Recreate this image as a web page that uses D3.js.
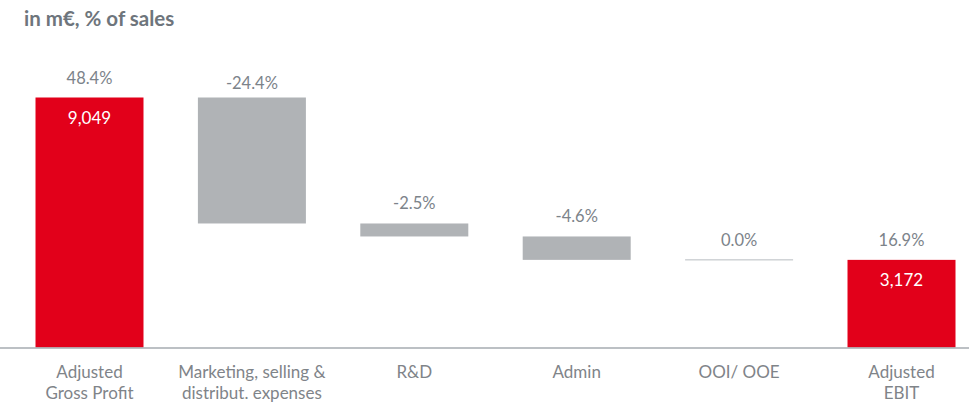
<!DOCTYPE html>
<html>
<head>
<meta charset="utf-8">
<script src="https://cdn.jsdelivr.net/npm/d3@7"></script>
<style>
  html, body { margin: 0; padding: 0; background: #fff; }
  svg { display: block; font-family: Lato, "Noto Sans", sans-serif; }
</style>
</head>
<body>
<div id="chart"></div>
<script>
// categories (label lines), values in m€ and % of sales
const categories = [
  ['Adjusted', 'Gross Profit'],
  ['Marketing, selling &', 'distribut. expenses'],
  ['R&D'],
  ['Admin'],
  ['OOI/ OOE'],
  ['Adjusted', 'EBIT']
];
const values = [9049, -4560, -470, -847, 0, 3172];
const percents = ['48.4%', '-24.4%', '-2.5%', '-4.6%', '0.0%', '16.9%'];
const isTotal = [true, false, false, false, false, true];

const width = 969, height = 402;
const baseY = 347.5;

// build waterfall steps
let running = 0;
const steps = values.map((v, i) => {
  let start, end;
  if (isTotal[i]) { start = 0; end = v; running = v; }
  else { start = running; end = running + v; running = end; }
  return { i, label: categories[i], value: v, pct: percents[i], total: isTotal[i],
           lo: Math.min(start, end), hi: Math.max(start, end) };
});

const svg = d3.select('#chart').append('svg')
  .attr('width', width).attr('height', height);

const x = d3.scaleBand()
  .domain(d3.range(categories.length))
  .range([8.3, 982.7])
  .paddingInner(0.335)
  .paddingOuter(0.1675);

const y = d3.scaleLinear()
  .domain([0, 9049])
  .range([baseY, 97.5]);

// title
svg.append('text')
  .attr('x', 24).attr('y', 26)
  .attr('font-size', 20.5).attr('font-weight', 700)
  .attr('fill', '#6e757c')
  .text('in m€, % of sales');

// bars
svg.selectAll('rect.bar')
  .data(steps.filter(d => d.value !== 0))
  .join('rect')
  .attr('class', 'bar')
  .attr('x', d => x(d.i))
  .attr('width', x.bandwidth())
  .attr('y', d => y(d.hi))
  .attr('height', d => y(d.lo) - y(d.hi))
  .attr('fill', d => d.total ? '#e2001a' : '#b0b3b6');

// zero step drawn as a thin line
svg.selectAll('line.zero')
  .data(steps.filter(d => d.value === 0))
  .join('line')
  .attr('class', 'zero')
  .attr('x1', d => x(d.i)).attr('x2', d => x(d.i) + x.bandwidth())
  .attr('y1', d => y(d.hi)).attr('y2', d => y(d.hi))
  .attr('stroke', '#b8bcc0').attr('stroke-width', 1);

// percent labels
svg.selectAll('text.pct')
  .data(steps)
  .join('text')
  .attr('class', 'pct')
  .attr('x', d => x(d.i) + x.bandwidth() / 2)
  .attr('y', d => y(d.hi) - (d.i === 1 ? 9 : 14))
  .attr('text-anchor', 'middle')
  .attr('font-size', 16.5)
  .attr('fill', '#7c838a')
  .text(d => d.pct);

// value labels inside total bars
svg.selectAll('text.val')
  .data(steps.filter(d => d.total))
  .join('text')
  .attr('class', 'val')
  .attr('x', d => x(d.i) + x.bandwidth() / 2)
  .attr('y', d => y(d.hi) + 26.5)
  .attr('text-anchor', 'middle')
  .attr('font-size', 17)
  .attr('fill', '#fff')
  .text(d => d3.format(',')(d.value));

// baseline axis
const axis = svg.append('g')
  .attr('transform', `translate(0,${baseY})`)
  .call(d3.axisBottom(x).tickSize(0).tickFormat(''));
axis.select('.domain')
  .attr('d', `M0,0.5H${width}`)
  .attr('stroke', '#a6abb0').attr('stroke-width', 1.5);

// category labels
const lab = svg.selectAll('text.cat')
  .data(steps)
  .join('text')
  .attr('class', 'cat')
  .attr('text-anchor', 'middle')
  .attr('font-size', 17)
  .attr('fill', '#7f8489');
lab.selectAll('tspan')
  .data(d => d.label.map(t => ({ t, cx: x(d.i) + x.bandwidth() / 2 })))
  .join('tspan')
  .attr('x', d => d.cx)
  .attr('y', (d, j) => 378 + j * 21)
  .text(d => d.t);
</script>
</body>
</html>
